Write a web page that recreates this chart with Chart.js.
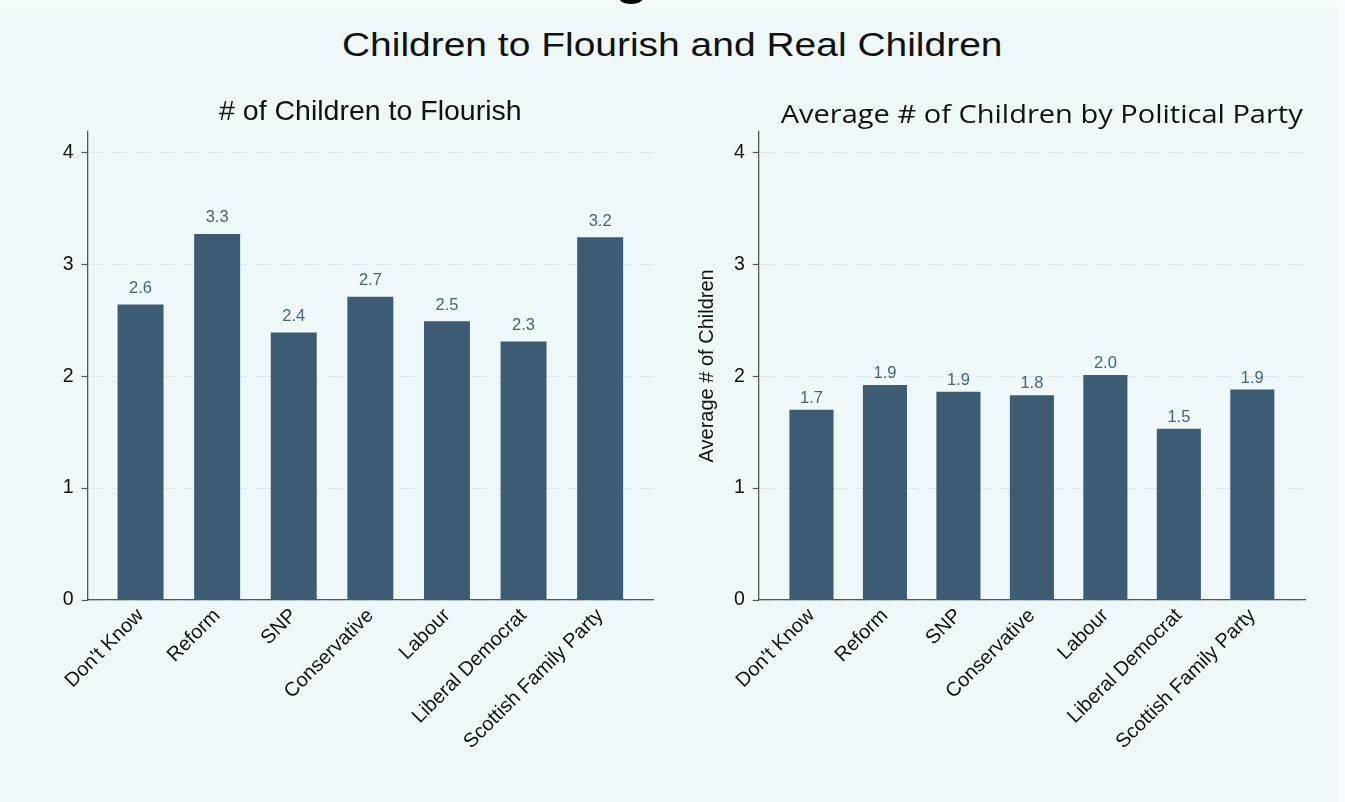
<!DOCTYPE html>
<html>
<head>
<meta charset="utf-8">
<script src="https://cdn.jsdelivr.net/npm/chart.js@4.4.1/dist/chart.umd.min.js"></script>
<style>
  html, body { margin: 0; padding: 0; background: #eef8f9; }
  body { width: 1345px; height: 802px; position: relative; overflow: hidden;
         font-family: 'Liberation Sans', Arial, Helvetica, sans-serif; }
  #topband { position: absolute; left: 0; top: 0; width: 1345px; height: 7px;
             background: #f6fbfc; overflow: hidden; }
  #topband span { position: absolute; left: 614px; top: -57px;
                  font: bold 58px/58px 'Liberation Sans', Arial, sans-serif; color: #000; }
  #edge { position: absolute; right: 0; top: 0; width: 7px; height: 802px; background: #f5fbfc; }
  #mainTitle { position: absolute; left: 0; top: 27px; width: 1345px; text-align: center;
               font-size: 34px; line-height: 34px; color: #111; white-space: nowrap; }
  #mainTitle span { display: inline-block; transform: scaleX(1.146); transform-origin: center; }
  #actualTitle { position: absolute; right: 42.6px; top: 101px; white-space: nowrap;
                 font-family: 'Open Sans', 'Noto Sans', sans-serif; font-size: 25px; line-height: 25px;
                 color: #111; transform-origin: right center; }
  canvas { position: absolute; top: 0; }
  #flourish { left: 0; }
  #actual { left: 672px; }
</style>
</head>
<body>
<div id="topband"><span>g</span></div>
<div id="edge"></div>
<div id="mainTitle"><span>Children to Flourish and Real Children</span></div>
<canvas id="flourish" width="672" height="802"></canvas>
<canvas id="actual" width="673" height="802"></canvas>
<div id="actualTitle">Average # of Children by Political Party</div>
<script>
// Party categories shared by both panels
const categories = ["Don't Know", "Reform", "SNP", "Conservative", "Labour", "Liberal Democrat", "Scottish Family Party"];
// Ideal number of children for a family to flourish, by party
const flourishValues = [2.64, 3.27, 2.39, 2.71, 2.49, 2.31, 3.24];
// Average number of children respondents actually have, by party
const actualValues = [1.70, 1.92, 1.86, 1.83, 2.01, 1.53, 1.88];
// Value-axis ticks
const yTicks = [0, 1, 2, 3, 4];

const FONT = "'Liberation Sans', Arial, Helvetica, sans-serif";
const BAR = '#3d5c73';

// Fit the right-hand panel heading to its slot width
(function () {
  const el = document.getElementById('actualTitle');
  const w = el.getBoundingClientRect().width;
  el.style.transform = 'scaleX(' + (522 / w) + ')';
})();

// Writes each bar's value (one decimal) above it
const valueLabels = {
  id: 'valueLabels',
  afterDatasetsDraw(chart, args, opts) {
    const ctx = chart.ctx;
    const meta = chart.getDatasetMeta(0);
    const data = chart.data.datasets[0].data;
    ctx.save();
    ctx.font = opts.size + 'px ' + FONT;
    ctx.fillStyle = opts.color;
    ctx.textAlign = 'center';
    ctx.textBaseline = 'alphabetic';
    meta.data.forEach((bar, i) => {
      ctx.fillText(data[i].y.toFixed(1), bar.x, bar.y - opts.gap);
    });
    ctx.restore();
  }
};

function buildPanel(id, values, p) {
  const yScale = {
    min: 0, max: 4.184,
    afterBuildTicks: s => { s.ticks = yTicks.map(v => ({ value: v })); },
    afterFit: s => { s.width = p.axisWidth; },
    ticks: { color: '#111', font: { family: FONT, size: 19.5 }, padding: 8 },
    grid: { color: '#dce5e7', lineWidth: 1, tickColor: '#555', tickLength: 6, tickWidth: 1.2, tickBorderDash: [] },
    border: { display: true, color: '#555', width: 1.3, dash: [15, 9] }
  };
  if (p.yTitle) {
    yScale.title = { display: true, text: p.yTitle, color: '#111',
                     font: { family: FONT, size: 20 }, padding: { top: 23, bottom: 0 } };
  }
  const titleOpts = p.title
    ? { display: true, text: p.title, fullSize: false, align: 'center', color: '#111',
        font: { family: FONT, size: 28.5, weight: 'normal' },
        padding: { top: p.titleTop, bottom: p.titleBottom } }
    : { display: false };
  return new Chart(document.getElementById(id), {
    type: 'bar',
    data: {
      datasets: [{
        data: categories.map((c, i) => ({ x: i, y: values[i] })),
        backgroundColor: BAR,
        borderWidth: 0,
        barPercentage: 0.6,
        categoryPercentage: 1
      }]
    },
    options: {
      responsive: false,
      animation: false,
      layout: { padding: { left: 0, right: p.padRight, top: p.padTop, bottom: 0 } },
      plugins: {
        legend: { display: false },
        tooltip: { enabled: false },
        title: titleOpts,
        valueLabels: { size: 16.5, color: '#48627a', gap: p.labelGap }
      },
      scales: {
        x: {
          type: 'linear', min: p.xMin, max: p.xMax, offset: false,
          afterBuildTicks: s => { s.ticks = categories.map((c, i) => ({ value: i })); },
          afterFit: s => { s.height = 202; },
          ticks: {
            callback: v => categories[v],
            autoSkip: false, minRotation: 45, maxRotation: 45,
            color: '#111', font: { family: FONT, size: 20 }, padding: 4
          },
          grid: { display: false, drawTicks: false, offset: false },
          border: { display: true, color: '#555', width: 1.3 }
        },
        y: yScale
      }
    },
    plugins: [valueLabels]
  });
}

buildPanel('flourish', flourishValues, {
  title: '# of Children to Flourish', titleTop: 95, titleBottom: 2.5, padTop: 0,
  axisWidth: 87.7, padRight: 19, xMin: -0.69, xMax: 6.69, labelGap: 11.6
});

buildPanel('actual', actualValues, {
  title: null, padTop: 131.7,
  axisWidth: 86.8, padRight: 40, xMin: -0.717, xMax: 6.717, labelGap: 6.7,
  yTitle: 'Average # of Children'
});
</script>
</body>
</html>
